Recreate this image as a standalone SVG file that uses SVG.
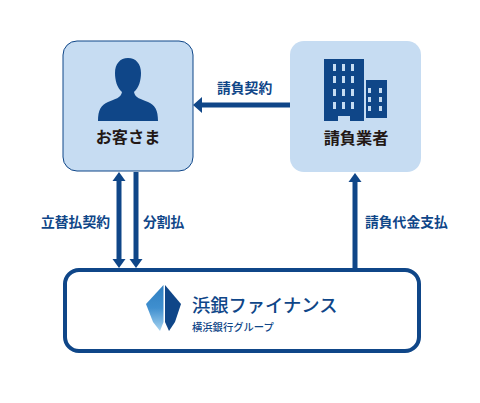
<svg xmlns="http://www.w3.org/2000/svg" width="480" height="403" viewBox="0 0 480 403">
<style>
text{font-family:"Noto Sans CJK JP","Noto Sans",sans-serif;font-weight:700}
.lbl{font-size:13.800px;fill:#0f4688}
.nm{font-size:16.200px;fill:#231815;text-anchor:middle}
.ln{stroke:#0f4688;stroke-width:5;fill:none}
.ic{fill:#0f4688}
.win{fill:#c6dcf2}
</style>
<defs>
<linearGradient id="g1" x1="0" y1="0" x2="0" y2="1"><stop offset="0" stop-color="#2f7fc1"/><stop offset="0.5" stop-color="#3f8fcf"/><stop offset="1" stop-color="#a6d3f0"/></linearGradient>
</defs>
<rect width="480" height="403" fill="#fff"/>
<g id="connectors">
<path class="ln" d="M290 105H202"/><path class="ic" d="M193 105L202 97V113Z"/>
<path class="ln" d="M119 180V260"/><path class="ic" d="M119 172L125.500 181H112.500Z"/><path class="ic" d="M119 268L125.500 259H112.500Z"/>
<path class="ln" d="M136 172V260"/><path class="ic" d="M136 268L142.500 259H129.500Z"/>
<path class="ln" d="M355 268V182"/><path class="ic" d="M355 173L361.500 182H348.500Z"/>
<text class="lbl" x="217" y="93">請負契約</text>
<text class="lbl" x="41" y="227">立替払契約</text>
<text class="lbl" x="143" y="227">分割払</text>
<text class="lbl" x="365" y="227">請負代金支払</text>
</g>
<g id="customer">
<rect x="63" y="41" width="130" height="130" rx="14" fill="#c6dcf2" stroke="#0f4688" stroke-width="1"/>
<path class="ic" d="M98 121C98 110 101 105 108 102C115 99 121 98 122 92C117 88 115 80 115 73C115 64 120 58 128 58C136 58 141 64 141 73C141 80 139 88 134 92C135 98 141 99 148 102C155 105 158 110 158 121Z"/>
<text class="nm" x="128" y="143">お客さま</text>
</g>
<g id="contractor">
<rect x="290" y="41" width="131" height="131" rx="14" fill="#c6dcf2"/>
<path class="ic" d="M324 59H364V121H350V116H338V121H324Z"/>
<rect class="ic" x="366" y="80" width="21" height="38"/>
<g class="win">
<rect x="333" y="64" width="3" height="7"/><rect x="342" y="64" width="3" height="7"/><rect x="351" y="64" width="3" height="7"/>
<rect x="333" y="76" width="3" height="7"/><rect x="342" y="76" width="3" height="7"/><rect x="351" y="76" width="3" height="7"/>
<rect x="333" y="89" width="3" height="7"/><rect x="342" y="89" width="3" height="7"/><rect x="351" y="89" width="3" height="7"/>
<rect x="333" y="102" width="3" height="7"/><rect x="342" y="102" width="3" height="7"/><rect x="351" y="102" width="3" height="7"/>
<rect x="368" y="88" width="3" height="5"/><rect x="379" y="88" width="3" height="5"/>
<rect x="368" y="97" width="3" height="5"/><rect x="379" y="97" width="3" height="5"/>
<rect x="368" y="106" width="3" height="5"/><rect x="379" y="106" width="3" height="5"/>
</g>
<text class="nm" x="356" y="144">請負業者</text>
</g>
<g id="finance">
<rect x="65" y="270" width="354" height="81" rx="14" fill="#fff" stroke="#0f4688" stroke-width="4"/>
<path fill="url(#g1)" d="M163.500 285L146 304L153 322L160 331L163.500 322Z"/>
<path class="ic" d="M165 285L181 304L175 322L169 331L165 322Z"/>
<text x="192" y="312" font-size="18.300" fill="#0f4688" style="font-weight:500">浜銀ファイナンス</text>
<text x="192" y="331" font-size="10.300" fill="#0f4688" style="font-weight:500">横浜銀行グループ</text>
</g>
</svg>
